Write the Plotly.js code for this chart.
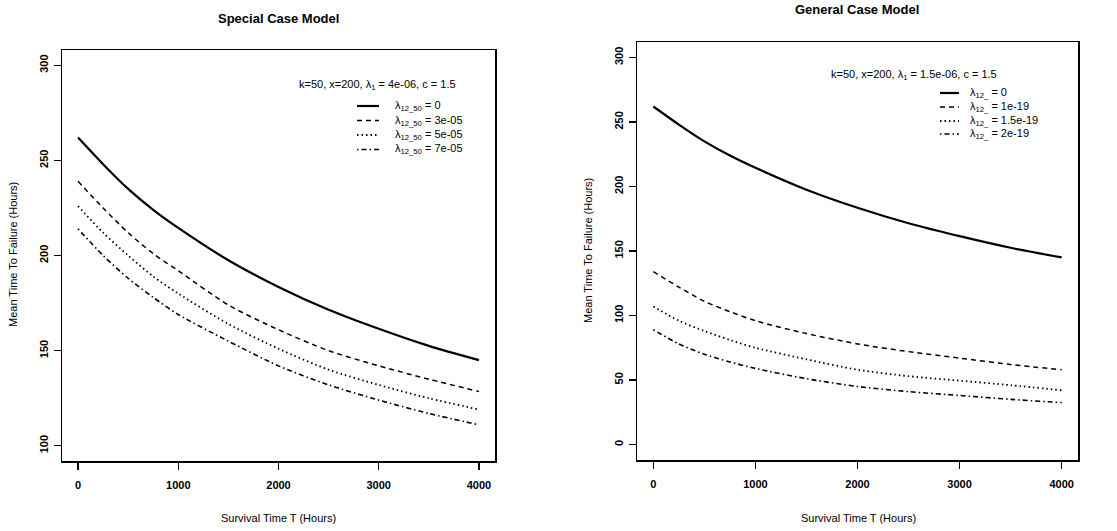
<!DOCTYPE html>
<html>
<head>
<meta charset="utf-8">
<script src="https://cdn.plot.ly/plotly-3.0.1.min.js"></script>
<style>html,body{margin:0;padding:0;background:#fff;}#chart{width:1117px;height:531px;}</style>
</head>
<body>
<div id="chart"></div>
<script>
// ---- data ----
var survivalT = [0, 250, 500, 750, 1000, 1500, 2000, 2500, 3000, 3500, 4000];

// Special Case Model
var special_0    = [262, 248, 235, 224, 214.5, 197.5, 183.5, 171.5, 161.5, 152.5, 145];
var special_3e05 = [239, 225, 212, 201, 192, 174, 161, 150, 142, 135, 128.5];
var special_5e05 = [226, 212, 200, 189, 180, 164, 151, 140, 132, 125, 119];
var special_7e05 = [214, 200, 188, 178, 169, 155, 142, 132, 124, 117, 111];

// General Case Model
var general_0      = [262, 248, 235, 224, 214.5, 197.5, 183.5, 171.5, 161.5, 152.5, 145];
var general_1e19   = [134, 122, 111, 103, 96, 86, 78, 72, 67, 62, 58];
var general_1_5e19 = [107, 96, 88, 81, 75, 66, 58, 53, 49.5, 46, 42];
var general_2e19   = [89, 78, 70, 64, 59, 51, 45, 41, 38, 35, 32.5];

var specialLabels = ['λ<sub>12_50</sub> = 0', 'λ<sub>12_50</sub> = 3e-05', 'λ<sub>12_50</sub> = 5e-05', 'λ<sub>12_50</sub> = 7e-05'];
var generalLabels = ['λ<sub>12_</sub> = 0', 'λ<sub>12_</sub> = 1e-19', 'λ<sub>12_</sub> = 1.5e-19', 'λ<sub>12_</sub> = 2e-19'];

var xTicks = [0, 1000, 2000, 3000, 4000];
var ySpecialTicks = [100, 150, 200, 250, 300];
var yGeneralTicks = [0, 50, 100, 150, 200, 250, 300];

// ---- styles ----
var W = 1117, H = 531;
var FONT = 'Liberation Sans, Arial, Helvetica, sans-serif';
var styles = [
  {dash: 'solid', width: 2.2},
  {dash: '5px,4px', width: 1.5},
  {dash: '1.5px,3px', width: 1.8},
  {dash: '1.5px,3px,5px,3px', width: 1.6}
];

function px(x) { return x / W; }
function py(y) { return 1 - y / H; }

var specialSeries = [special_0, special_3e05, special_5e05, special_7e05];
var generalSeries = [general_0, general_1e19, general_1_5e19, general_2e19];

var traces = [];
specialSeries.forEach(function (s, i) {
  traces.push({x: survivalT, y: s, xaxis: 'x', yaxis: 'y', type: 'scatter', mode: 'lines',
    name: specialLabels[i], showlegend: false,
    line: {color: '#000', width: styles[i].width, dash: styles[i].dash, shape: 'spline', smoothing: 0.8}});
});
generalSeries.forEach(function (s, i) {
  traces.push({x: survivalT, y: s, xaxis: 'x2', yaxis: 'y2', type: 'scatter', mode: 'lines',
    name: generalLabels[i], showlegend: false,
    line: {color: '#000', width: styles[i].width, dash: styles[i].dash, shape: 'spline', smoothing: 0.8}});
});

function axisBase() {
  return {
    showgrid: false, zeroline: false, showline: true, mirror: true,
    linecolor: '#000', linewidth: 1.5,
    ticks: 'outside', ticklen: 7, tickwidth: 1.2, tickcolor: '#000',
    tickfont: {family: FONT, size: 11, color: '#000', weight: 'bold'},
    tickmode: 'array', fixedrange: true
  };
}

var xa = Object.assign(axisBase(), {domain: [px(62), px(495)], range: [-160, 4160], tickvals: xTicks, anchor: 'y', ticklabelstandoff: 6});
var ya = Object.assign(axisBase(), {domain: [py(461), py(50)], range: [92, 308], tickvals: ySpecialTicks, tickangle: -90, anchor: 'x', ticklabelstandoff: 1});
var xa2 = Object.assign(axisBase(), {domain: [px(637), px(1078)], range: [-160, 4160], tickvals: xTicks, anchor: 'y2', ticklabelstandoff: 6});
var ya2 = Object.assign(axisBase(), {domain: [py(460), py(42)], range: [-12, 312], tickvals: yGeneralTicks, tickangle: -90, anchor: 'x2', ticklabelstandoff: 1});

var annotations = [];
function ann(text, x, y, opts) {
  annotations.push(Object.assign({text: text, xref: 'paper', yref: 'paper', x: px(x), y: py(y),
    showarrow: false, xanchor: 'center', yanchor: 'middle',
    font: {family: FONT, size: 11, color: '#000'}}, opts || {}));
}
ann('<b>Special Case Model</b>', 278, 18, {font: {family: FONT, size: 13, color: '#000'}});
ann('<b>General Case Model</b>', 857, 10, {font: {family: FONT, size: 13, color: '#000'}});
ann('Survival Time T (Hours)', 278, 518);
ann('Survival Time T (Hours)', 858, 518);
ann('Mean Time To Failure (Hours)', 13, 255, {textangle: -90});
ann('Mean Time To Failure (Hours)', 588, 251, {textangle: -90});
ann('k=50, x=200, λ<sub>1</sub> = 4e-06, c = 1.5', 297, 85, {xanchor: 'left'});
ann('k=50, x=200, λ<sub>1</sub> = 1.5e-06, c = 1.5', 829, 75, {xanchor: 'left'});

var shapes = [];
var leftRows = [106, 120.5, 135, 149.5];
var rightRows = [93, 107, 121, 134];
leftRows.forEach(function (y, i) {
  shapes.push({type: 'line', xref: 'paper', yref: 'paper', x0: px(357), x1: px(379), y0: py(y), y1: py(y),
    line: {color: '#000', width: styles[i].width, dash: styles[i].dash}});
  ann(specialLabels[i], 393, y, {xanchor: 'left'});
});
rightRows.forEach(function (y, i) {
  shapes.push({type: 'line', xref: 'paper', yref: 'paper', x0: px(940), x1: px(959), y0: py(y), y1: py(y),
    line: {color: '#000', width: styles[i].width, dash: styles[i].dash}});
  ann(generalLabels[i], 968, y, {xanchor: 'left'});
});

var layout = {
  width: W, height: H,
  margin: {l: 0, r: 0, t: 0, b: 0},
  paper_bgcolor: '#fff', plot_bgcolor: '#fff',
  showlegend: false,
  font: {family: FONT, size: 11, color: '#000'},
  xaxis: xa, yaxis: ya, xaxis2: xa2, yaxis2: ya2,
  annotations: annotations, shapes: shapes
};

Plotly.newPlot('chart', traces, layout, {staticPlot: true, displayModeBar: false});
</script>
</body>
</html>
